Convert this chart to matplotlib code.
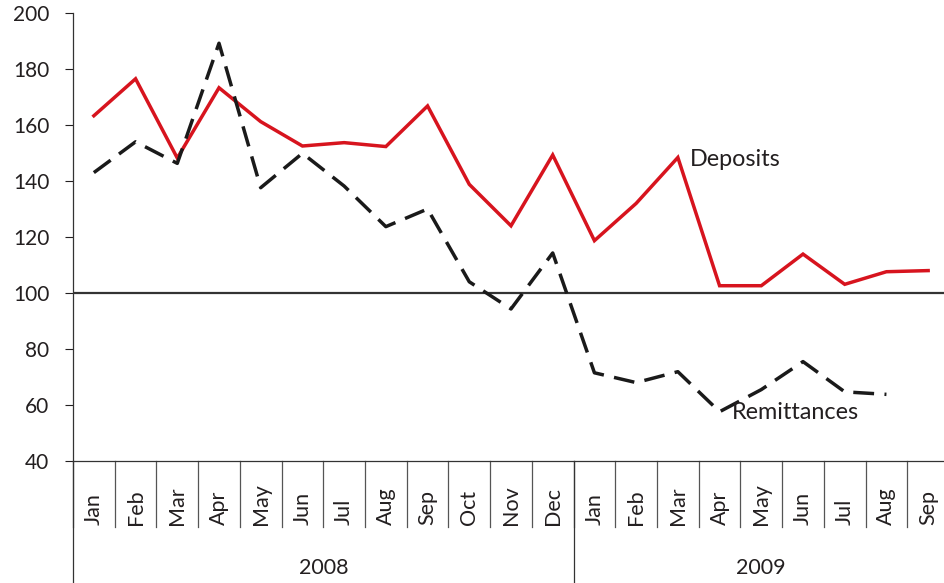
import matplotlib
matplotlib.use("Agg")
import matplotlib.pyplot as plt
import matplotlib.transforms as mtransforms

plt.rcParams['font.family'] = ['Lato', 'DejaVu Sans']

months = ["Jan", "Feb", "Mar", "Apr", "May", "Jun", "Jul", "Aug", "Sep", "Oct", "Nov", "Dec",
          "Jan", "Feb", "Mar", "Apr", "May", "Jun", "Jul", "Aug", "Sep"]
years = ["2008", "2009"]
months_per_year = [12, 9]

deposits = [163.3, 176.5, 148.2, 173.3, 161.2, 152.5, 153.7, 152.3, 166.8, 138.8, 124.0, 149.3,
            118.7, 132.0, 148.4, 102.6, 102.6, 113.9, 103.1, 107.6, 108.0]
remittances = [143.0, 154.0, 146.3, 189.2, 137.6, 149.9, 138.2, 123.7, 130.0, 104.0, 94.3, 114.3,
               71.5, 68.0, 71.9, 57.6, 65.5, 75.5, 64.7, 63.8]

yticks = [40, 60, 80, 100, 120, 140, 160, 180, 200]

W, H = 944, 583
fig = plt.figure(figsize=(W / 100, H / 100), dpi=100)
left_px, right_px, top_px, bot_px = 73, 949, 13, 461
ax = fig.add_axes([left_px / W, (H - bot_px) / H, (right_px - left_px) / W, (bot_px - top_px) / H])

txt = '#231f20'
fs = 15.5
fs_ann = 16.8
x_dep = list(range(len(deposits)))
x_rem = list(range(len(remittances)))
ax.plot(x_dep, deposits, color='#d7141e', lw=2.5, solid_joinstyle='miter', zorder=3)
ax.plot(x_rem, remittances, color='#1a1a1a', lw=2.5, dashes=(6, 3), zorder=3)
ax.axhline(100, color='#333333', lw=1.6, zorder=2)

ax.set_xlim(-0.5, len(months) - 0.5)
ax.set_ylim(40, 200)
ax.set_yticks(yticks)
ax.set_yticklabels([str(v) for v in yticks])
ax.tick_params(axis='y', direction='out', length=6, width=0.8, pad=11, labelsize=15,
               colors=txt)
ax.tick_params(axis='x', length=0, labelbottom=False)
for s in ['top', 'right']:
    ax.spines[s].set_visible(False)
for s in ['left', 'bottom']:
    ax.spines[s].set_color('#333333')
    ax.spines[s].set_linewidth(0.9)

trans = mtransforms.blended_transform_factory(ax.transData, ax.transAxes)
sep_bottom = -(527 - bot_px) / (bot_px - top_px)
fig_bottom = -(H - bot_px) / (bot_px - top_px)
for i in range(len(months) + 1):
    ax.plot([i - 0.5, i - 0.5], [0, sep_bottom], transform=trans, color='#555555', lw=0.9,
            clip_on=False)
start = 0
bounds = [0]
for n in months_per_year:
    start += n
    bounds.append(start)
for b in bounds[:-1]:
    ax.plot([b - 0.5, b - 0.5], [0, fig_bottom], transform=trans, color='#333333', lw=0.9,
            clip_on=False)

label_y = -(525 - bot_px) / (bot_px - top_px)
for i, m in enumerate(months):
    ax.text(i, label_y, m, transform=trans, rotation=90, ha='center', va='bottom',
            fontsize=fs, color=txt)

year_y = -(568 - bot_px) / (bot_px - top_px)
for k, yr in enumerate(years):
    a, b = bounds[k], bounds[k + 1]
    ax.text((a + b) / 2 - 0.5, year_y, yr, transform=trans, ha='center', va='center',
            fontsize=fs, color=txt)

ax.text(14.29, 147.5, "Deposits", ha='left', va='center', fontsize=fs_ann, color=txt)
ax.text(15.3, 57.3, "Remittances", ha='left', va='center', fontsize=fs_ann, color=txt)

fig.savefig("out.png", dpi=100)
